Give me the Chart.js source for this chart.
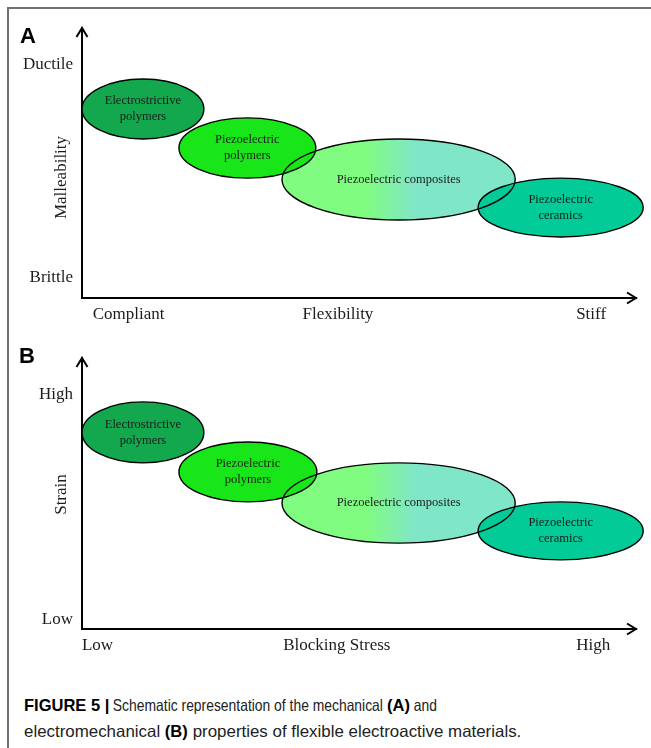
<!DOCTYPE html>
<html>
<head>
<meta charset="utf-8">
<script src="https://cdn.jsdelivr.net/npm/chart.js@4.4.0/dist/chart.umd.min.js"></script>
<style>
  html, body { margin: 0; padding: 0; background: #fff; }
  body { width: 651px; height: 748px; position: relative; overflow: hidden; }
  .frameL { position: absolute; left: 7px; top: 7px; width: 1.5px; height: 741px; background: #707070; }
  .frameT { position: absolute; left: 7px; top: 7px; width: 644px; height: 1.5px; background: #707070; }
  canvas { position: absolute; left: 0; }
  #cA { top: 0; }
  #cB { top: 330px; }
  .panel { position: absolute; font-family: 'Liberation Sans', Arial, sans-serif; font-weight: bold; font-size: 22px; line-height: 22px; color: #000; }
  .cap { position: absolute; font-family: 'Liberation Sans', Arial, sans-serif; font-size: 16.5px; line-height: 16.5px; color: #222; white-space: pre; transform-origin: 0 0; }
  .cap.b { font-weight: bold; color: #000; }
</style>
</head>
<body>
<div class="frameL"></div>
<div class="frameT"></div>
<canvas id="cA" width="651" height="330"></canvas>
<canvas id="cB" width="651" height="330"></canvas>
<div class="panel" style="left:20px;top:25px">A</div>
<div class="panel" style="left:19px;top:345px">B</div>

<script>
// ---------------- DATA ----------------
const materials = ['Electrostrictive\npolymers', 'Piezoelectric\npolymers', 'Piezoelectric composites', 'Piezoelectric\nceramics'];

// Panel A : Flexibility (x) vs Malleability (y), relative 0-100 scale
const aFlexMin = [0.0, 17.5, 36.1, 71.5];
const aFlexMax = [22.0, 42.2, 78.2, 101.3];
const aMallMin = [58.9, 44.4, 28.9, 22.6];
const aMallMax = [81.1, 66.7, 58.9, 44.4];
const aXTickValues = [8.4, 46.2, 91.9];
const aXTickLabels = ['Compliant', 'Flexibility', 'Stiff'];
const aYTickValues = [86.5, 7.6];
const aYTickLabels = ['Ductile', 'Brittle'];
const aYTitle = 'Malleability';

// Panel B : Blocking stress (x) vs Strain (y), relative 0-100 scale
const bStressMin = [0.0, 17.5, 36.1, 71.5];
const bStressMax = [22.0, 42.4, 78.2, 101.3];
const bStrainMin = [61.3, 46.9, 31.7, 25.5];
const bStrainMax = [83.8, 69.0, 61.3, 46.9];
const bXTickValues = [2.8, 46.0, 92.3];
const bXTickLabels = ['Low', 'Blocking Stress', 'High'];
const bYTickValues = [86.5, 3.6];
const bYTickLabels = ['High', 'Low'];
const bYTitle = 'Strain';

// Caption text segments (b = bold, r = regular)
const captionLine1 = [['b', 'FIGURE 5 |'], ['r', ' Schematic representation of the mechanical '], ['b', '(A)'], ['r', ' and']];
const captionLine2 = [['r', 'electromechanical '], ['b', '(B)'], ['r', ' properties of flexible electroactive materials.']];

// ---------------- STYLE ----------------
const fillColors = ['#14a84e', '#19e619', null, '#02cb97'];
const gradStops = [[0, '#80fc80'], [0.36, '#80fc80'], [0.57, '#80e6c8'], [1, '#80e6c8']];
const fillOrder = [2, 0, 1, 3];
const serif = "'Liberation Serif', 'Times New Roman', serif";
const textColor = '#1c1c1c';

function buildPoints(xMin, xMax, yMin, yMax) {
  return xMin.map((_, i) => ({
    x: (xMin[i] + xMax[i]) / 2,
    y: (yMin[i] + yMax[i]) / 2,
    xMin: xMin[i], xMax: xMax[i], yMin: yMin[i], yMax: yMax[i]
  }));
}

const ellipsePlugin = {
  id: 'ellipses',
  afterDatasetsDraw(chart) {
    const ctx = chart.ctx;
    const xs = chart.scales.x, ys = chart.scales.y;
    const data = chart.data.datasets[0].data;
    const shapes = data.map(d => {
      const x0 = xs.getPixelForValue(d.xMin), x1 = xs.getPixelForValue(d.xMax);
      const yT = ys.getPixelForValue(d.yMax), yB = ys.getPixelForValue(d.yMin);
      return { x0, x1, cx: (x0 + x1) / 2, cy: (yT + yB) / 2, rx: (x1 - x0) / 2, ry: (yB - yT) / 2 };
    });
    ctx.save();
    fillOrder.forEach(i => {
      const s = shapes[i];
      ctx.beginPath();
      ctx.ellipse(s.cx, s.cy, s.rx, s.ry, 0, 0, Math.PI * 2);
      if (fillColors[i]) {
        ctx.fillStyle = fillColors[i];
      } else {
        const g = ctx.createLinearGradient(s.x0, 0, s.x1, 0);
        gradStops.forEach(st => g.addColorStop(st[0], st[1]));
        ctx.fillStyle = g;
      }
      ctx.fill();
    });
    ctx.lineWidth = 1.4;
    ctx.strokeStyle = '#000';
    shapes.forEach(s => {
      ctx.beginPath();
      ctx.ellipse(s.cx, s.cy, s.rx, s.ry, 0, 0, Math.PI * 2);
      ctx.stroke();
    });
    ctx.fillStyle = textColor;
    ctx.font = '12.5px ' + serif;
    ctx.textAlign = 'center';
    ctx.textBaseline = 'middle';
    shapes.forEach((s, i) => {
      const lines = materials[i].split('\n');
      const lh = 16;
      lines.forEach((ln, k) => {
        ctx.fillText(ln, s.cx, s.cy + (k - (lines.length - 1) / 2) * lh);
      });
    });
    ctx.restore();
  },
  afterDraw(chart, args, opts) {
    const ctx = chart.ctx;
    const ca = chart.chartArea;
    ctx.save();
    ctx.strokeStyle = '#000';
    ctx.lineWidth = 2;
    ctx.lineJoin = 'miter';
    ctx.beginPath();
    ctx.moveTo(ca.left - 5.5, ca.top + 9);
    ctx.lineTo(ca.left, ca.top);
    ctx.lineTo(ca.left + 5.5, ca.top + 9);
    ctx.stroke();
    ctx.beginPath();
    ctx.moveTo(ca.right - 9, ca.bottom - 5.5);
    ctx.lineTo(ca.right, ca.bottom);
    ctx.lineTo(ca.right - 9, ca.bottom + 5.5);
    ctx.stroke();
    ctx.fillStyle = textColor;
    ctx.font = '17px ' + serif;
    ctx.textAlign = 'center';
    ctx.textBaseline = 'alphabetic';
    ctx.translate(opts.titleX, opts.titleY);
    ctx.rotate(-Math.PI / 2);
    ctx.fillText(opts.title, 0, 0);
    ctx.restore();
  }
};

function makeChart(id, points, xVals, xLabels, yVals, yLabels, title, bottomPad, titleY) {
  return new Chart(document.getElementById(id), {
    type: 'scatter',
    data: { datasets: [{ data: points, pointRadius: 0, pointHoverRadius: 0 }] },
    plugins: [ellipsePlugin],
    options: {
      responsive: false,
      animation: false,
      events: [],
      layout: { padding: { top: 28, right: 15, left: 0, bottom: 0 } },
      plugins: {
        legend: { display: false },
        tooltip: { enabled: false },
        ellipses: { title: title, titleX: 66, titleY: titleY }
      },
      scales: {
        x: {
          type: 'linear', min: 0, max: 100,
          grid: { display: false, drawTicks: false },
          border: { display: true, color: '#000', width: 2 },
          afterFit: s => { s.height = bottomPad; },
          afterBuildTicks: s => { s.ticks = xVals.map(v => ({ value: v })); },
          ticks: {
            autoSkip: false, maxRotation: 0, minRotation: 0, padding: 6,
            color: textColor, font: { family: serif, size: 17 },
            callback: (v, i) => xLabels[i]
          }
        },
        y: {
          type: 'linear', min: 0, max: 100,
          grid: { display: false, drawTicks: false },
          border: { display: true, color: '#000', width: 2 },
          afterFit: s => { s.width = 82; },
          afterBuildTicks: s => { s.ticks = yVals.map(v => ({ value: v })); },
          ticks: {
            autoSkip: false, padding: 9,
            color: textColor, font: { family: serif, size: 17 },
            callback: (v, i) => yLabels[i]
          }
        }
      }
    }
  });
}

makeChart('cA', buildPoints(aFlexMin, aFlexMax, aMallMin, aMallMax), aXTickValues, aXTickLabels, aYTickValues, aYTickLabels, aYTitle, 32, 177.5);
makeChart('cB', buildPoints(bStressMin, bStressMax, bStrainMin, bStrainMax), bXTickValues, bXTickLabels, bYTickValues, bYTickLabels, bYTitle, 31, 164.5);

// ---------------- CAPTION (real DOM text, segments fitted to figure widths) ----------------
(function () {
  const mc = document.createElement('canvas').getContext('2d');
  const fam = "'Liberation Sans', Arial, sans-serif";
  const measure = (kind, t) => { mc.font = (kind === 'b' ? 'bold ' : '') + '16.5px ' + fam; return mc.measureText(t).width; };
  const boldScale = 1.0;
  const lines = [{ segs: captionLine1, top: 697, width: 413 }, { segs: captionLine2, top: 723, width: 497 }];
  lines.forEach(L => {
    let boldW = 0, regW = 0;
    L.segs.forEach(([k, t]) => { const w = measure(k, t); if (k === 'b') boldW += w * boldScale; else regW += w; });
    const regScale = (L.width - boldW) / regW;
    let x = 24;
    L.segs.forEach(([k, t]) => {
      const sc = k === 'b' ? boldScale : regScale;
      const el = document.createElement('div');
      el.className = 'cap' + (k === 'b' ? ' b' : '');
      el.textContent = t;
      el.style.left = x + 'px';
      el.style.top = L.top + 'px';
      el.style.transform = 'scaleX(' + sc.toFixed(4) + ')';
      document.body.appendChild(el);
      x += measure(k, t) * sc;
    });
  });
})();
</script>
</body>
</html>
